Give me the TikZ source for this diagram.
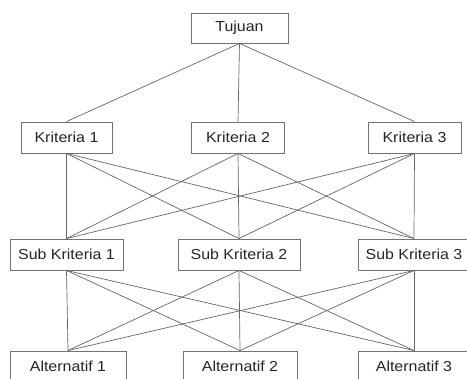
\documentclass[tikz,border=0pt]{standalone}
\usepackage{fontspec}
\setmainfont[FakeStretch=1.1]{Liberation Sans}
\begin{document}
\begin{tikzpicture}[x=1pt,y=-1pt,
  box/.style={draw=black!55, line width=0.9pt, fill=white, rectangle, inner sep=0pt,
    minimum height=31pt, font=\fontsize{14.5}{16}\selectfont, text=black!85},
  link/.style={draw=black!60, line width=0.7pt}]
\clip (0,0) rectangle (467,379);
\fill[white] (0,0) rectangle (467,379);
\node[box, minimum width=97pt, minimum height=30pt] (T) at (239.5,28) {Tujuan};
\node[box, minimum width=91pt] (K1) at (66.5,137.5) {Kriteria 1};
\node[box, minimum width=93pt] (K2) at (238,137.5) {Kriteria 2};
\node[box, minimum width=93pt] (K3) at (414.5,137.5) {Kriteria 3};
\node[box, minimum width=113pt] (S1) at (66.5,254.5) {Sub Kriteria 1};
\node[box, minimum width=122pt] (S2) at (239,254.5) {Sub Kriteria 2};
\node[box, minimum width=112pt] (S3) at (414,254.5) {Sub Kriteria 3};
\node[box, minimum width=116pt] (A1) at (68,366.5) {Alternatif 1};
\node[box, minimum width=114pt] (A2) at (240,366.5) {Alternatif 2};
\node[box, minimum width=112pt] (A3) at (414,366.5) {Alternatif 3};
\foreach \k in {K1,K2,K3} {\draw[link] (T.south) -- (\k.north);}
\foreach \k in {K1,K2,K3} {\foreach \s in {S1,S2,S3} {\draw[link] (\k.south) -- (\s.north);}}
\foreach \s in {S1,S2,S3} {\foreach \a in {A1,A2,A3} {\draw[link] (\s.south) -- (\a.north);}}
\end{tikzpicture}
\end{document}
